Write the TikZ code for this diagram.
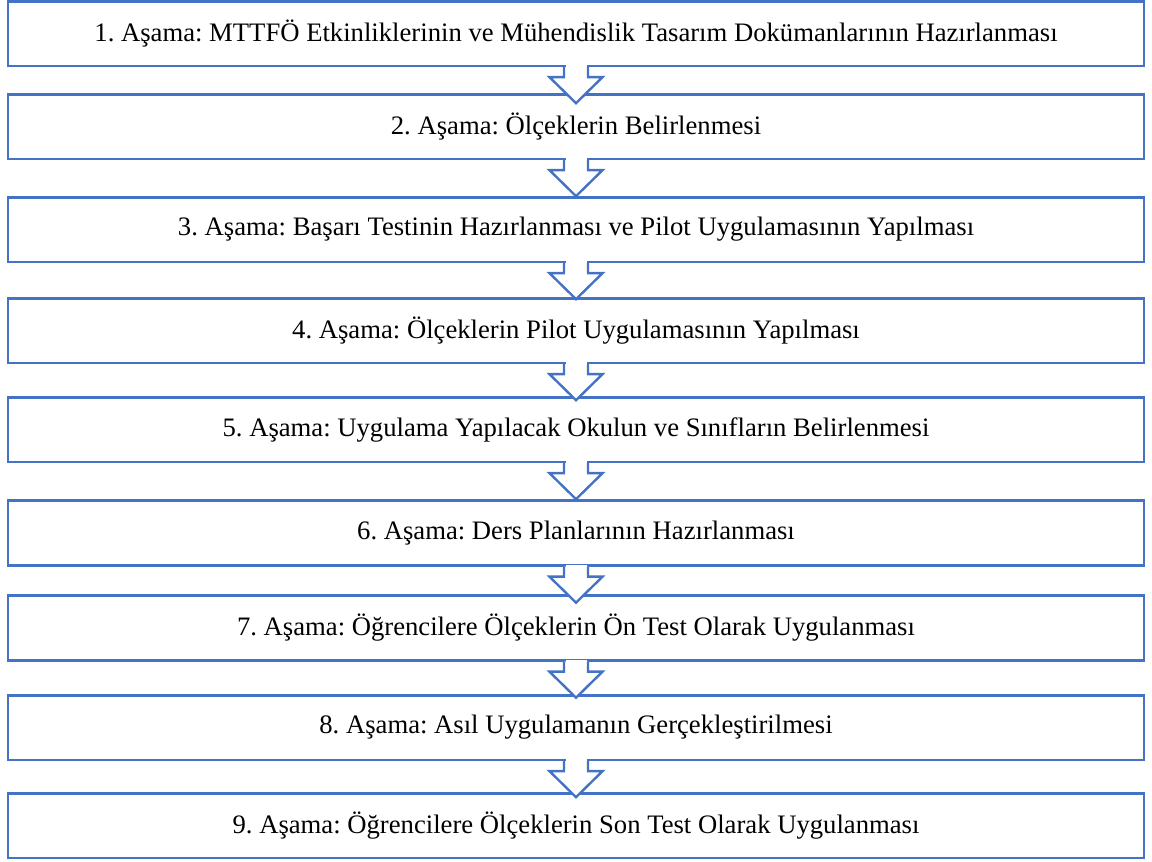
\documentclass[tikz,border=0pt]{standalone}
\usepackage{fontspec}
\setmainfont{Liberation Serif}
\usetikzlibrary{calc}

\definecolor{boxblue}{HTML}{4472C4}

\tikzset{
    stagebox/.style={draw=boxblue, line width=2pt, minimum width=852pt, minimum height=48.5pt, inner sep=0pt, font=\fontsize{20}{24}\selectfont},
    blockarrow/.style={draw=boxblue, line width=1.8pt, fill=white, line join=miter}
}

\begin{document}
\frenchspacing
\begin{tikzpicture}[x=0.75pt, y=-0.75pt]
    \useasboundingbox (0,0) rectangle (1152,861);

    \node[stagebox] (b1) at (576, 33.5) {1. Aşama: MTTFÖ Etkinliklerinin ve Mühendislik Tasarım Dokümanlarının Hazırlanması};
    \node[stagebox] (b2) at (576, 126.5) {2. Aşama: Ölçeklerin Belirlenmesi};
    \node[stagebox] (b3) at (576, 229.5) {3. Aşama: Başarı Testinin Hazırlanması ve Pilot Uygulamasının Yapılması};
    \node[stagebox] (b4) at (576, 330.5) {4. Aşama: Ölçeklerin Pilot Uygulamasının Yapılması};
    \node[stagebox] (b5) at (576, 429.5) {5. Aşama: Uygulama Yapılacak Okulun ve Sınıfların Belirlenmesi};
    \node[stagebox] (b6) at (576, 533) {6. Aşama: Ders Planlarının Hazırlanması};
    \node[stagebox] (b7) at (576, 628) {7. Aşama: Öğrencilere Ölçeklerin Ön Test Olarak Uygulanması};
    \node[stagebox] (b8) at (576, 727.5) {8. Aşama: Asıl Uygulamanın Gerçekleştirilmesi};
    \node[stagebox] (b9) at (576, 825.5) {9. Aşama: Öğrencilere Ölçeklerin Son Test Olarak Uygulanması};

    % block arrows from each stage to the next
    \foreach \i/\j in {1/2, 2/3, 3/4, 4/5, 5/6, 6/7, 7/8, 8/9} {
        \coordinate (t\i) at ($(b\i.south)!36pt!(b\j.north)$);
        \fill[white] ($(b\i.south)+(-10.5,-2)$) rectangle ($(b\i.south)+(10.5,2)$);
        \filldraw[blockarrow] ($(b\i.south)+(-12,0)$) -- ++(0,10) -- ++(-14.5,0)
            -- ($(b\i.south)+(0,36)$)
            -- ($(b\i.south)+(26.5,10)$) -- ++(-14.5,0) -- ++(0,-10);
    }
\end{tikzpicture}
\end{document}
